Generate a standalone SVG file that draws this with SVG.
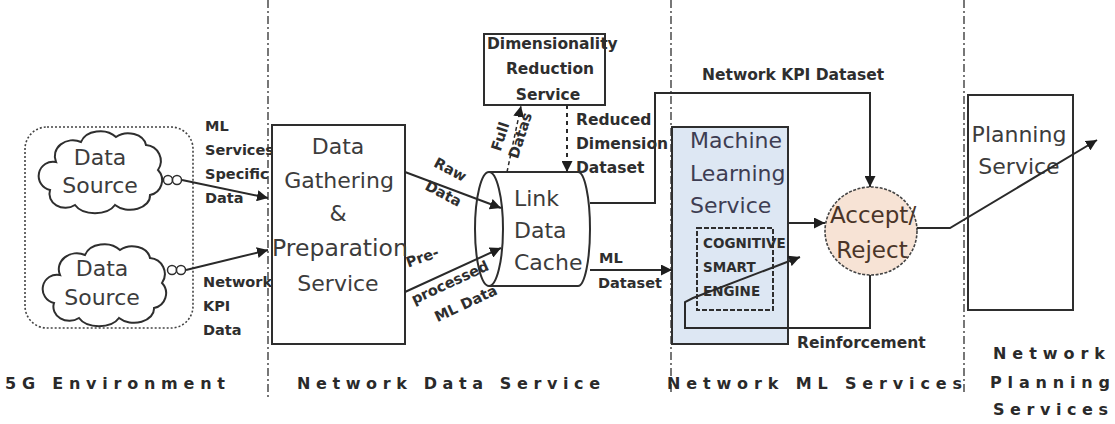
<svg xmlns="http://www.w3.org/2000/svg" width="1115" height="424" viewBox="0 0 1115 424">
<style>
.big{font-family:"DejaVu Sans","Liberation Sans",sans-serif;font-size:22px;fill:#3c3c3c}
.lbl{font-family:"DejaVu Sans","Liberation Sans",sans-serif;font-size:15.5px;font-weight:bold;fill:#2e2e2e}
.sm{font-size:14.5px}
.sec{font-family:"DejaVu Sans","Liberation Sans",sans-serif;font-size:16px;font-weight:bold;fill:#2a2a2a}
.box{fill:#fff;stroke:#2e2e2e;stroke-width:2}
.ln{fill:none;stroke:#2a2a2a;stroke-width:2}
.div{stroke:#555;stroke-width:1.6;stroke-dasharray:8 3 2 3;fill:none}
</style>
<defs>
<marker id="ah" viewBox="0 0 10 10" refX="10" refY="5" markerWidth="11" markerHeight="11" markerUnits="userSpaceOnUse" orient="auto">
<path d="M0,0 L10,5 L0,10 z" fill="#1e1e1e"/>
</marker>
<path id="cloud" d="M20,30 a18,16 0 0 1 25,-20 a20,15 0 0 1 35,-5 a18,14 0 0 1 30,8 a16,16 0 0 1 12,25 a15,15 0 0 1 -8,25 a20,14 0 0 1 -35,10 a22,14 0 0 1 -40,0 a16,14 0 0 1 -25,-15 a14,14 0 0 1 6,-28 z" fill="#fff" stroke="#2e2e2e" stroke-width="2"/>
</defs>
<rect width="1115" height="424" fill="#fff"/>

<g id="dividers">
<line class="div" x1="268" y1="0" x2="268" y2="400"/>
<line class="div" x1="671" y1="0" x2="671" y2="395"/>
<line class="div" x1="964" y1="0" x2="964" y2="392"/>
</g>

<g id="env5g">
<rect x="25" y="127" width="168" height="201" rx="22" fill="none" stroke="#444" stroke-width="1.6" stroke-dasharray="2 2"/>
</g>

<g id="source1">
<use href="#cloud" transform="translate(36,132)"/>
<text class="big" x="100" y="165" text-anchor="middle">Data</text>
<text class="big" x="100" y="193" text-anchor="middle">Source</text>
<circle cx="168" cy="180" r="4.5" fill="#fff" stroke="#2e2e2e" stroke-width="1.5"/>
<circle cx="177" cy="180" r="4.5" fill="#fff" stroke="#2e2e2e" stroke-width="1.5"/>
</g>
<g id="source2">
<use href="#cloud" transform="translate(40,245)"/>
<text class="big" x="102" y="276" text-anchor="middle">Data</text>
<text class="big" x="102" y="305" text-anchor="middle">Source</text>
<circle cx="172" cy="270" r="4.5" fill="#fff" stroke="#2e2e2e" stroke-width="1.5"/>
<circle cx="181" cy="270" r="4.5" fill="#fff" stroke="#2e2e2e" stroke-width="1.5"/>
</g>

<g id="labels-left">
<text class="lbl sm" x="205" y="131">ML</text>
<text class="lbl sm" x="205" y="155">Services</text>
<text class="lbl sm" x="205" y="179">Specific</text>
<text class="lbl sm" x="205" y="203">Data</text>
<text class="lbl sm" x="203" y="287">Network</text>
<text class="lbl sm" x="203" y="311">KPI</text>
<text class="lbl sm" x="203" y="335">Data</text>
</g>

<g id="gathering">
<rect class="box" x="272" y="125" width="133" height="219"/>
<text class="big" x="338" y="154" text-anchor="middle">Data</text>
<text class="big" x="339" y="188" text-anchor="middle">Gathering</text>
<text class="big" x="338" y="221" text-anchor="middle">&amp;</text>
<text class="big" x="340" y="256" text-anchor="middle" style="font-size:23.5px">Preparation</text>
<text class="big" x="338" y="291" text-anchor="middle">Service</text>
</g>

<g id="dimred">
<rect class="box" x="484" y="34" width="121" height="71"/>
<text class="lbl" x="487" y="49">Dimensionality</text>
<text class="lbl" x="550" y="74" text-anchor="middle">Reduction</text>
<text class="lbl" x="548" y="100" text-anchor="middle">Service</text>
</g>

<g id="cache">
<path d="M489,172 H578 A12,57 0 0 1 578,286 H489" fill="#fff" stroke="#2e2e2e" stroke-width="2"/>
<ellipse cx="489" cy="229" rx="14" ry="57" fill="none" stroke="#2e2e2e" stroke-width="2"/>
<text class="big" x="514" y="206">Link</text>
<text class="big" x="514" y="238">Data</text>
<text class="big" x="514" y="270">Cache</text>
</g>

<g id="mlservice">
<rect x="672" y="127" width="116" height="217" fill="#dde7f3" stroke="#2e2e2e" stroke-width="2"/>
<text class="big" x="690" y="148" style="fill:#3d3d52">Machine</text>
<text class="big" x="690" y="181" style="fill:#3d3d52">Learning</text>
<text class="big" x="690" y="213" style="fill:#3d3d52">Service</text>
</g>
<g id="cognitive">
<rect x="697" y="228" width="76" height="82" fill="none" stroke="#2e2e2e" stroke-width="2" stroke-dasharray="5 2"/>
<text class="lbl" x="703" y="248" style="font-size:13.5px">COGNITIVE</text>
<text class="lbl" x="703" y="272" style="font-size:13.5px">SMART</text>
<text class="lbl" x="703" y="296" style="font-size:13.5px">ENGINE</text>
</g>

<g id="acceptreject">
<ellipse cx="871" cy="231" rx="46" ry="44" fill="#f7e3d5" stroke="#444" stroke-width="1.6" stroke-dasharray="3 1.5"/>
<text class="big" x="830" y="223" style="fill:#4a3528;font-size:23px">Accept/</text>
<text class="big" x="872" y="258" text-anchor="middle" style="fill:#4a3528;font-size:23px">Reject</text>
</g>

<g id="planning">
<rect class="box" x="968" y="95" width="105" height="215"/>
<text class="big" x="1019" y="142" text-anchor="middle">Planning</text>
<text class="big" x="1019" y="174" text-anchor="middle">Service</text>
</g>

<g id="connectors">
<line class="ln" x1="182" y1="180" x2="268" y2="198" marker-end="url(#ah)"/>
<line class="ln" x1="186" y1="270" x2="268" y2="250" marker-end="url(#ah)"/>
<line class="ln" x1="405" y1="172" x2="501" y2="208" marker-end="url(#ah)"/>
<line class="ln" x1="405" y1="292" x2="501" y2="248" marker-end="url(#ah)"/>
<line x1="507" y1="172" x2="521" y2="106" stroke="#2a2a2a" stroke-width="1.5" stroke-dasharray="4 3" marker-end="url(#ah)"/>
<line x1="567" y1="105" x2="567" y2="172" stroke="#2a2a2a" stroke-width="2" stroke-dasharray="4 4" marker-end="url(#ah)"/>
<polyline class="ln" points="590,203 655,203 655,93 870,93 870,187" marker-end="url(#ah)"/>
<line class="ln" x1="590" y1="270" x2="672" y2="270" marker-end="url(#ah)"/>
<line class="ln" x1="788" y1="223" x2="825" y2="223" marker-end="url(#ah)"/>
<polyline class="ln" points="870,275 870,328 685,328 685,302 693,298 800,257" marker-end="url(#ah)"/>
<polyline class="ln" points="917,228 950,228 1097,140" marker-end="url(#ah)"/>
</g>

<g id="connector-labels">
<text class="lbl sm" transform="translate(448,174) rotate(28)" text-anchor="middle">Raw</text>
<text class="lbl sm" transform="translate(441,198) rotate(28)" text-anchor="middle">Data</text>
<text class="lbl sm" transform="translate(424,262) rotate(-20)" text-anchor="middle">Pre-</text>
<text class="lbl sm" transform="translate(452,287) rotate(-25)" text-anchor="middle">processed</text>
<text class="lbl sm" transform="translate(468,308) rotate(-25)" text-anchor="middle">ML Data</text>
<text class="lbl sm" transform="translate(505,138) rotate(-72)" text-anchor="middle">Full</text>
<text class="lbl sm" transform="translate(525,137) rotate(-72)" text-anchor="middle">Datas</text>
<text class="lbl" x="576" y="125">Reduced</text>
<text class="lbl" x="576" y="149">Dimension</text>
<text class="lbl" x="576" y="173">Dataset</text>
<text class="lbl" x="702" y="80">Network KPI Dataset</text>
<text class="lbl sm" x="599" y="263">ML</text>
<text class="lbl sm" x="598" y="288">Dataset</text>
<text class="lbl" x="797" y="348">Reinforcement</text>
</g>

<g id="section-labels">
<text class="sec" x="5" y="389" textLength="220" lengthAdjust="spacing">5G Environment</text>
<text class="sec" x="297" y="389" textLength="303" lengthAdjust="spacing">Network Data Service</text>
<text class="sec" x="667" y="389" textLength="295" lengthAdjust="spacing">Network ML Services</text>
<text class="sec" x="993" y="359" textLength="112" lengthAdjust="spacing">Network</text>
<text class="sec" x="990" y="388" textLength="120" lengthAdjust="spacing">Planning</text>
<text class="sec" x="993" y="415" textLength="115" lengthAdjust="spacing">Services</text>
</g>
</svg>
